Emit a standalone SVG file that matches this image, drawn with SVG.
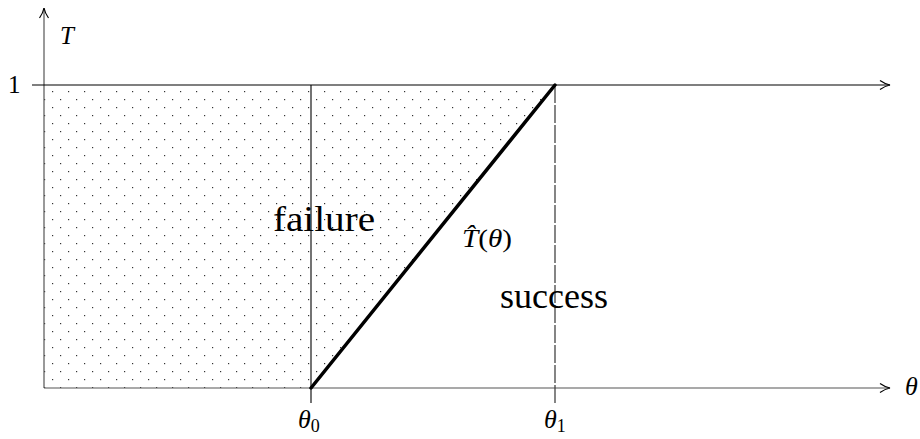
<svg xmlns="http://www.w3.org/2000/svg" width="920" height="439" viewBox="0 0 920 439">
<style>
  .ax { stroke: #555; stroke-width: 1.2; fill: none; }
  .ln { stroke: #000; stroke-width: 1.1; fill: none; }
  .t { font-family: "Liberation Serif", "DejaVu Serif", serif; fill: #000; }
  .i { font-style: italic; }
</style>
<defs>
  <pattern id="dots" x="44" y="85" width="16" height="16" patternUnits="userSpaceOnUse">
    <rect x="8" y="6" width="1.2" height="1.2" fill="#333"/>
    <rect x="0" y="14" width="1.2" height="1.2" fill="#333"/>
  </pattern>
  <marker id="arr" viewBox="0 0 12 12" refX="11" refY="6" markerWidth="12" markerHeight="12" markerUnits="userSpaceOnUse" orient="auto">
    <path d="M1,1.5 Q6,5 11,6 Q6,7 1,10.5" fill="none" stroke="#000" stroke-width="1.2"/>
  </marker>
</defs>
<g id="regions">
  <polygon points="44,85 555,85 311,388 44,388" fill="url(#dots)"/>
</g>
<g id="connectors">
  <line class="ax" x1="44" y1="388" x2="44" y2="8" marker-end="url(#arr)"/>
  <line class="ax" x1="44" y1="388" x2="890" y2="388" marker-end="url(#arr)"/>
  <line class="ln" x1="32" y1="85" x2="890" y2="85" marker-end="url(#arr)"/>
  <line class="ln" x1="311" y1="85" x2="311" y2="403"/>
  <line x1="555" y1="85" x2="555" y2="403" stroke="#444" stroke-width="1.3" stroke-dasharray="18,2"/>
  <line x1="311" y1="388" x2="555" y2="85" stroke="#000" stroke-width="3.5" stroke-linecap="round"/>
</g>
<g id="labels">
  <text class="t i" x="60" y="44" font-size="25">T</text>
  <text class="t" x="8" y="93" font-size="25">1</text>
  <text class="t" x="273" y="231" font-size="35" textLength="102" lengthAdjust="spacingAndGlyphs">failure</text>
  <text class="t" x="500" y="308" font-size="35" textLength="108" lengthAdjust="spacingAndGlyphs">success</text>
  <text class="t" x="462" y="247" font-size="26" textLength="50" lengthAdjust="spacingAndGlyphs"><tspan class="i">T&#x302;</tspan>(<tspan class="i">θ</tspan>)</text>
  <text class="t i" x="298" y="428" font-size="26">θ<tspan font-style="normal" font-size="18" dy="4">0</tspan></text>
  <text class="t i" x="544" y="428" font-size="26">θ<tspan font-style="normal" font-size="18" dy="4">1</tspan></text>
  <text class="t i" x="905" y="395" font-size="26">θ</text>
</g>
</svg>
